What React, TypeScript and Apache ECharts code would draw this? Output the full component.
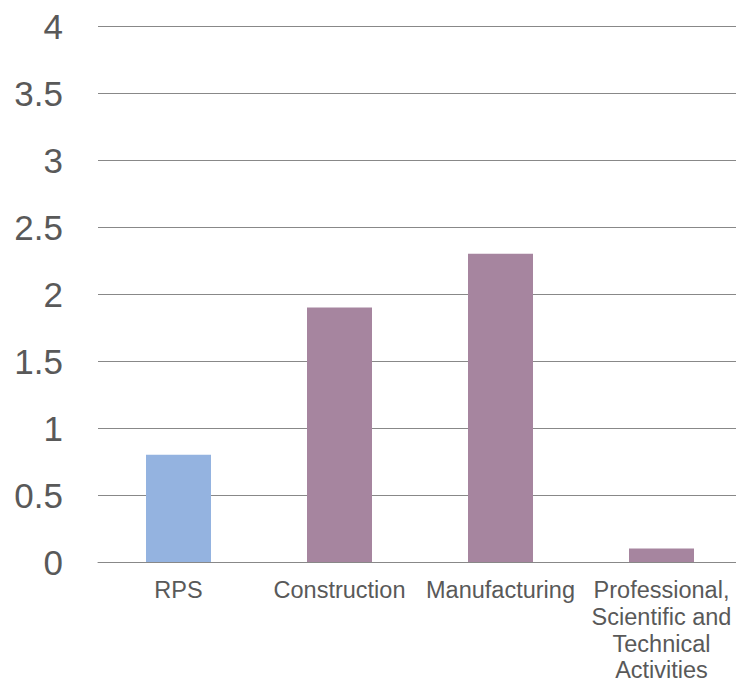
import React, { useEffect, useRef } from "react";
import * as echarts from "echarts";

const categories = [
  "RPS",
  "Construction",
  "Manufacturing",
  "Professional,\nScientific and\nTechnical\nActivities",
];
const values = [0.8, 1.9, 2.3, 0.1];
const barColors = ["#94B3E0", "#A6859F", "#A6859F", "#A6859F"];
const yTicks = { min: 0, max: 4, interval: 0.5 };

export default function App() {
  const ref = useRef<HTMLDivElement>(null);
  useEffect(() => {
    if (!ref.current) return;
    const chart = echarts.init(ref.current, null, { renderer: "svg" });
    chart.setOption({
      animation: false,
      backgroundColor: "#ffffff",
      grid: { left: 98, right: 0, top: 26, bottom: 123, containLabel: false },
      xAxis: {
        type: "category",
        data: categories,
        axisLine: { show: true, lineStyle: { color: "#888888", width: 1 } },
        axisTick: { show: false },
        axisLabel: {
          color: "#595959",
          fontSize: 23.5,
          fontFamily: "Liberation Sans, Arial, sans-serif",
          lineHeight: 26.7,
          margin: 15,
          interval: 0,
        },
      },
      yAxis: {
        type: "value",
        min: yTicks.min,
        max: yTicks.max,
        interval: yTicks.interval,
        axisLine: { show: false },
        axisTick: { show: false },
        splitLine: { lineStyle: { color: "#888888", width: 1 } },
        axisLabel: {
          color: "#595959",
          fontSize: 35,
          fontFamily: "Liberation Sans, Arial, sans-serif",
          margin: 35,
        },
      },
      series: [
        {
          type: "bar",
          data: values.map((v, i) => ({ value: v, itemStyle: { color: barColors[i] } })),
          barWidth: 65,
        },
      ],
    });
    return () => chart.dispose();
  }, []);
  return (
    <div
      ref={ref}
      style={{ position: "fixed", left: 0, top: 0, width: 742, height: 685 }}
    />
  );
}
